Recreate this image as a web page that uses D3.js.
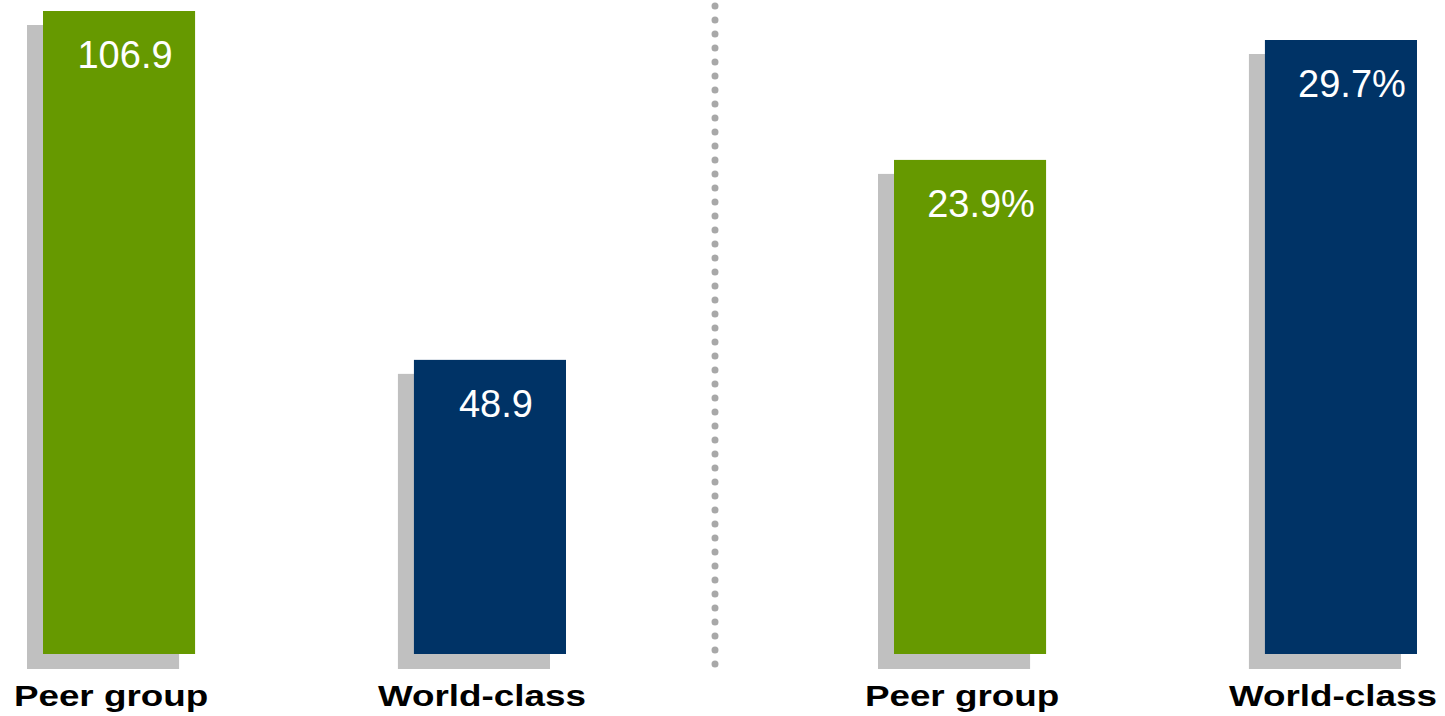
<!DOCTYPE html>
<html>
<head>
<meta charset="utf-8">
<script src="https://cdn.jsdelivr.net/npm/d3@7"></script>
<style>
  html, body { margin: 0; padding: 0; background: #ffffff; }
  svg { display: block; }
</style>
</head>
<body>
<svg id="chart" width="1445" height="716"></svg>
<script>
// ---- data ----
const categories = ["Peer group", "World-class"];
const leftValues = [106.9, 48.9];
const leftLabels = ["106.9", "48.9"];
const rightValues = [23.9, 29.7];
const rightLabels = ["23.9%", "29.7%"];
const barColors = ["#669900", "#003366"];

// ---- layout ----
const W = 1445, H = 716;
const baseY = 654;
const svg = d3.select("#chart");

const shadowDX = -16, shadowDY = 14;

function panel(values, labels, xRange, yTop, valDX) {
  const x = d3.scaleBand().domain(categories).range(xRange).paddingInner(0.59).paddingOuter(0);
  const y = d3.scaleLinear().domain([0, d3.max(values)]).range([baseY, yTop]);
  const g = svg.append("g");
  const data = categories.map((c, i) => ({ c, v: values[i], l: labels[i], col: barColors[i] }));

  // shadows
  g.selectAll("rect.shadow").data(data).join("rect")
    .attr("class", "shadow")
    .attr("x", d => x(d.c) + shadowDX)
    .attr("y", d => y(d.v) + shadowDY)
    .attr("width", x.bandwidth())
    .attr("height", d => baseY - y(d.v) + 1)
    .attr("fill", "#c0c0c0");

  // bars
  g.selectAll("rect.bar").data(data).join("rect")
    .attr("class", "bar")
    .attr("x", d => x(d.c))
    .attr("y", d => y(d.v))
    .attr("width", x.bandwidth())
    .attr("height", d => baseY - y(d.v))
    .attr("fill", d => d.col);

  // value labels
  g.selectAll("text.val").data(data).join("text")
    .attr("class", "val")
    .attr("x", d => x(d.c) + x.bandwidth() / 2 + valDX)
    .attr("y", d => y(d.v) + 57)
    .attr("text-anchor", "middle")
    .attr("fill", "#ffffff")
    .style("font-family", "'Liberation Sans', Arial, sans-serif")
    .style("font-size", "38px")
    .text(d => d.l);

  // category labels
  g.selectAll("text.cat").data(data).join("text")
    .attr("class", "cat")
    .attr("transform", d => `translate(${x(d.c) + x.bandwidth() / 2 + shadowDX / 2},706) scale(1.27,1)`)
    .attr("text-anchor", "middle")
    .attr("fill", "#000000")
    .style("font-family", "'Liberation Sans', Arial, sans-serif")
    .style("font-weight", "bold")
    .style("font-size", "29px")
    .text(d => d.c);
}

panel(leftValues, leftLabels, [43, 566], 11, 6);
panel(rightValues, rightLabels, [894, 1417], 40, 11);

// dotted divider
svg.append("line")
  .attr("x1", 715).attr("x2", 715)
  .attr("y1", 6).attr("y2", 666)
  .attr("stroke", "#a8a8a8")
  .attr("stroke-width", 7)
  .attr("stroke-linecap", "round")
  .attr("stroke-dasharray", "0 14");
</script>
</body>
</html>
